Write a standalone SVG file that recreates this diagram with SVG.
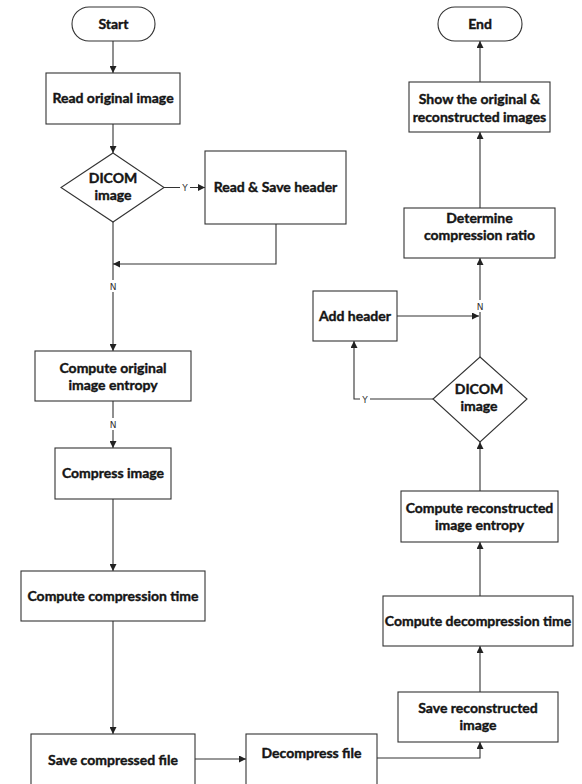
<svg xmlns="http://www.w3.org/2000/svg" width="582" height="784" viewBox="0 0 582 784">
<defs>
<marker id="ah" viewBox="0 0 10 10" refX="10" refY="5" markerWidth="7" markerHeight="7" markerUnits="userSpaceOnUse" orient="auto">
<path d="M0,0 L10,5 L0,10 z" fill="#222"/>
</marker>
<style>
.box{fill:#fff;stroke:#333;stroke-width:1.1}
.t{font-family:Lato,"Liberation Sans",sans-serif;font-weight:bold;font-size:14px;fill:#151515;stroke:#151515;stroke-width:0.4;text-anchor:middle}
.c{fill:none;stroke:#333;stroke-width:1.1}
.a{marker-end:url(#ah)}
.lbl{font-family:"DejaVu Sans","Liberation Sans",sans-serif;font-size:9px;fill:#333;text-anchor:middle}
</style>
</defs>
<rect width="582" height="784" fill="#fff"/>

<g id="connectors">
<path class="c a" d="M113,41 V73"/>
<path class="c a" d="M113,124 V153"/>
<path class="c a" d="M164,187.5 H205"/>
<path class="c a" d="M276,224 V264 H113"/>
<path class="c a" d="M113,222 V351"/>
<path class="c a" d="M113,401 V448"/>
<path class="c a" d="M113,499 V571"/>
<path class="c a" d="M113,621 V734"/>
<path class="c a" d="M195,759 H246"/>
<path class="c a" d="M377,758 H480 V742"/>
<path class="c a" d="M480,692 V646"/>
<path class="c a" d="M480,596 V542"/>
<path class="c a" d="M480,491 V442"/>
<path class="c a" d="M433,399 H354 V341"/>
<path class="c a" d="M397,316 H479"/>
<path class="c a" d="M480,357 V258"/>
<path class="c a" d="M480,208 V132"/>
<path class="c a" d="M480,82 V41"/>
<rect x="180" y="181" width="10" height="12" fill="#fff"/>
<text class="lbl" x="185" y="190.5">Y</text>
<rect x="108" y="280" width="10" height="12" fill="#fff"/>
<text class="lbl" x="113" y="289.5">N</text>
<rect x="108" y="418" width="10" height="12" fill="#fff"/>
<text class="lbl" x="113" y="427.5">N</text>
<rect x="475" y="300" width="10" height="12" fill="#fff"/>
<text class="lbl" x="480" y="309.5">N</text>
<rect x="360" y="393" width="10" height="12" fill="#fff"/>
<text class="lbl" x="365" y="402.5">Y</text>
</g>

<g id="start"><rect class="box" x="72" y="7" width="83" height="34" rx="17"/><text class="t" x="113.5" y="29">Start</text></g>
<g id="read-original"><rect class="box" x="46" y="73" width="134" height="51"/><text class="t" x="113" y="103">Read original image</text></g>
<g id="dicom1"><polygon class="box" points="113,153 164,187.5 113,222 61,187.5"/><text class="t" x="113" y="183">DICOM</text><text class="t" x="113" y="200">image</text></g>
<g id="read-save-header"><rect class="box" x="205" y="151" width="141" height="73"/><text class="t" x="275.5" y="192">Read &amp; Save header</text></g>
<g id="compute-orig-entropy"><rect class="box" x="35" y="351" width="156" height="50"/><text class="t" x="113" y="373">Compute original</text><text class="t" x="113" y="390">image entropy</text></g>
<g id="compress"><rect class="box" x="55" y="448" width="116" height="51"/><text class="t" x="113" y="478">Compress image</text></g>
<g id="compression-time"><rect class="box" x="21" y="571" width="184" height="50"/><text class="t" x="113" y="601">Compute compression time</text></g>
<g id="save-compressed"><rect class="box" x="31" y="734" width="164" height="60"/><text class="t" x="113" y="765">Save compressed file</text></g>
<g id="decompress"><rect class="box" x="246" y="734" width="131" height="60"/><text class="t" x="311.5" y="758">Decompress file</text></g>
<g id="save-reconstructed"><rect class="box" x="398" y="692" width="160" height="50"/><text class="t" x="478" y="713">Save reconstructed</text><text class="t" x="478" y="730">image</text></g>
<g id="decompression-time"><rect class="box" x="383" y="596" width="190" height="50"/><text class="t" x="478" y="626">Compute decompression time</text></g>
<g id="recon-entropy"><rect class="box" x="401" y="491" width="157" height="51"/><text class="t" x="479.5" y="513">Compute reconstructed</text><text class="t" x="479.5" y="530">image entropy</text></g>
<g id="dicom2"><polygon class="box" points="480,357 527,399 480,442 433,399"/><text class="t" x="479" y="394">DICOM</text><text class="t" x="479" y="411">image</text></g>
<g id="add-header"><rect class="box" x="313" y="291" width="84" height="50"/><text class="t" x="355" y="321">Add header</text></g>
<g id="compression-ratio"><rect class="box" x="404" y="208" width="151" height="50"/><text class="t" x="479.5" y="223">Determine</text><text class="t" x="479.5" y="240">compression ratio</text></g>
<g id="show-images"><rect class="box" x="409" y="82" width="141" height="50"/><text class="t" x="479.5" y="104">Show the original &amp;</text><text class="t" x="479.5" y="122">reconstructed images</text></g>
<g id="end"><rect class="box" x="438" y="7" width="84" height="34" rx="17"/><text class="t" x="480" y="29">End</text></g>
</svg>
